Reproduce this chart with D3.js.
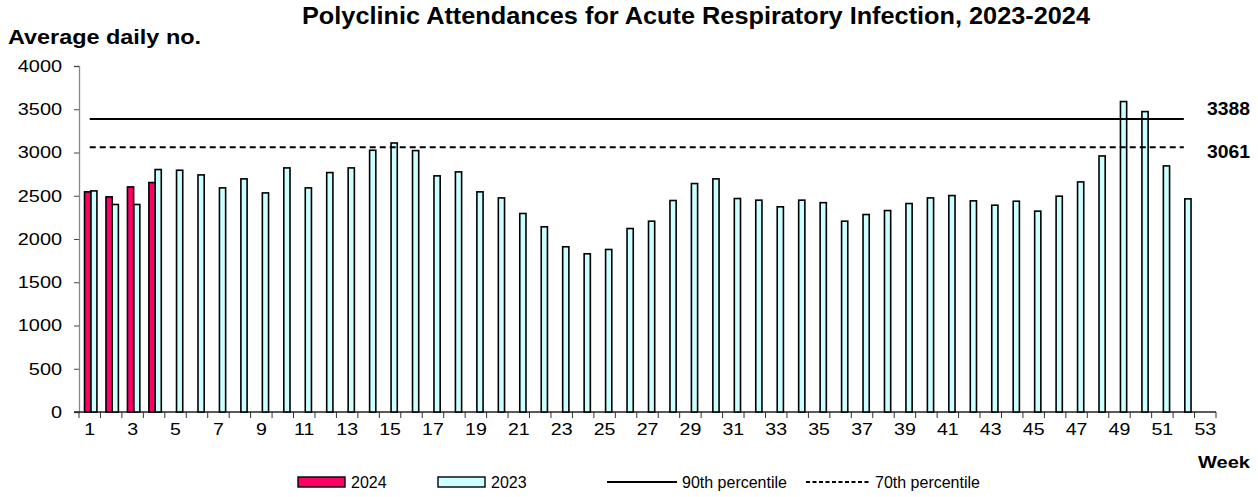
<!DOCTYPE html>
<html><head><meta charset="utf-8">
<script src="https://cdn.jsdelivr.net/npm/d3@7"></script>
<style>body{margin:0;background:#fff}svg{display:block}text{font-family:"Liberation Sans",Arial,sans-serif}</style>
</head><body><svg id="c" width="1258" height="497"></svg>
<script>
const weeks = d3.range(1, 54);
const tickWeeks = d3.range(1, 54, 2);
const yTicks = [0, 500, 1000, 1500, 2000, 2500, 3000, 3500, 4000];
const values2024 = [2545, 2487, 2602, 2653];
const values2023 = [2556, 2399, 2399, 2803, 2795, 2741, 2591, 2695, 2533, 2822,
  2591, 2768, 2822, 3026, 3110, 3022, 2730, 2776, 2545, 2475,
  2295, 2141, 1910, 1829, 1879, 2121, 2206, 2445, 2641, 2695,
  2468, 2449, 2372, 2449, 2420, 2206, 2283, 2329, 2410, 2475,
  2502, 2441, 2391, 2437, 2322, 2495, 2660, 2960, 3589, 3473,
  2845, 2464];
const p90 = 3388, p70 = 3061;

const svg = d3.select("#c");
const x = d3.scaleBand().domain(weeks).range([79, 1216]).padding(0);
const y = d3.scaleLinear().domain([0, 4000]).range([412, 66]);
const bw = 6.2;

function stretch(sel, f) {
  sel.each(function() {
    const L = this.getComputedTextLength();
    this.setAttribute("textLength", L * f);
    this.setAttribute("lengthAdjust", "spacingAndGlyphs");
  });
}
function fit(sel, w) {
  sel.attr("textLength", w).attr("lengthAdjust", "spacingAndGlyphs");
}

// axes
const yAxis = d3.axisLeft(y).tickValues(yTicks).tickSize(5).tickPadding(12).tickFormat(d3.format("d"));
const gy = svg.append("g").attr("transform", "translate(79,0)").call(yAxis);
gy.select(".domain").attr("stroke", "#888").attr("stroke-width", 1.3);
gy.selectAll(".tick line").attr("stroke", "#444");
const yt = gy.selectAll("text").attr("font-size", 17).attr("fill", "#000").attr("font-family", "Liberation Sans, Arial");
stretch(yt, 1.17);

const xAxis = d3.axisBottom(x).tickValues(tickWeeks).tickSize(0).tickPadding(11);
const gx = svg.append("g").attr("transform", "translate(0,412)").call(xAxis);
gx.select(".domain").remove();
const xt = gx.selectAll("text").attr("font-size", 17).attr("fill", "#000").attr("font-family", "Liberation Sans, Arial");
stretch(xt, 1.15);
// category boundary ticks
svg.append("g").selectAll("line").data(weeks.concat([54])).join("line")
  .attr("x1", d => d <= 53 ? x(d) : x(53) + x.bandwidth())
  .attr("x2", d => d <= 53 ? x(d) : x(53) + x.bandwidth())
  .attr("y1", 412).attr("y2", 418).attr("stroke", "#333").attr("stroke-width", 1);
svg.append("line").attr("x1", 74).attr("x2", 1216).attr("y1", 412).attr("y2", 412).attr("stroke", "#222").attr("stroke-width", 1.3);

// bars
const cx = d => x(d) + x.bandwidth() / 2 + 1;
svg.append("g").selectAll("rect").data(values2023.map((v, i) => ({w: i + 1, v}))).join("rect")
  .attr("x", d => cx(d.w)).attr("width", bw)
  .attr("y", d => y(d.v)).attr("height", d => y(0) - y(d.v))
  .attr("fill", "#CCFFFF").attr("stroke", "#000").attr("stroke-width", 1.6);
svg.append("g").selectAll("rect").data(values2024.map((v, i) => ({w: i + 1, v}))).join("rect")
  .attr("x", d => cx(d.w) - bw).attr("width", bw)
  .attr("y", d => y(d.v)).attr("height", d => y(0) - y(d.v))
  .attr("fill", "#FF0066").attr("stroke", "#000").attr("stroke-width", 1.6);

// percentile lines
const lx1 = x(1) + x.bandwidth() / 2, lx2 = x(52) + x.bandwidth() / 2;
svg.append("line").attr("x1", lx1).attr("x2", lx2).attr("y1", y(p90)).attr("y2", y(p90))
  .attr("stroke", "#000").attr("stroke-width", 2);
svg.append("line").attr("x1", lx1).attr("x2", lx2).attr("y1", y(p70)).attr("y2", y(p70))
  .attr("stroke", "#000").attr("stroke-width", 2).attr("stroke-dasharray", "6,4");
fit(svg.append("text").attr("x", 1207).attr("y", y(p90) - 4).attr("font-size", 18.5).attr("font-weight", "bold").text(p90), 43);
fit(svg.append("text").attr("x", 1207).attr("y", y(p70) + 11).attr("font-size", 18.5).attr("font-weight", "bold").text(p70), 43);

// titles
fit(svg.append("text").attr("x", 696).attr("y", 24).attr("text-anchor", "middle").attr("font-size", 23.5).attr("font-weight", "bold")
  .text("Polyclinic Attendances for Acute Respiratory Infection, 2023-2024"), 788);
fit(svg.append("text").attr("x", 8).attr("y", 44).attr("font-size", 20).attr("font-weight", "bold").text("Average daily no."), 193);
fit(svg.append("text").attr("x", 1250).attr("y", 468).attr("text-anchor", "end").attr("font-size", 17).attr("font-weight", "bold").text("Week"), 52);

// legend
const lg = svg.append("g");
lg.append("rect").attr("x", 298).attr("y", 477).attr("width", 47).attr("height", 10).attr("fill", "#FF0066").attr("stroke", "#000").attr("stroke-width", 1.4);
lg.append("text").attr("x", 351).attr("y", 488).attr("font-size", 16).text("2024");
lg.append("rect").attr("x", 438).attr("y", 477).attr("width", 47).attr("height", 10).attr("fill", "#CCFFFF").attr("stroke", "#000").attr("stroke-width", 1.4);
lg.append("text").attr("x", 491).attr("y", 488).attr("font-size", 16).text("2023");
lg.append("line").attr("x1", 607).attr("x2", 677).attr("y1", 482).attr("y2", 482).attr("stroke", "#000").attr("stroke-width", 2);
lg.append("text").attr("x", 682).attr("y", 488).attr("font-size", 16).text("90th percentile");
lg.append("line").attr("x1", 806).attr("x2", 870).attr("y1", 482).attr("y2", 482).attr("stroke", "#000").attr("stroke-width", 2).attr("stroke-dasharray", "4,2.5");
lg.append("text").attr("x", 875).attr("y", 488).attr("font-size", 16).text("70th percentile");
</script></body></html>
